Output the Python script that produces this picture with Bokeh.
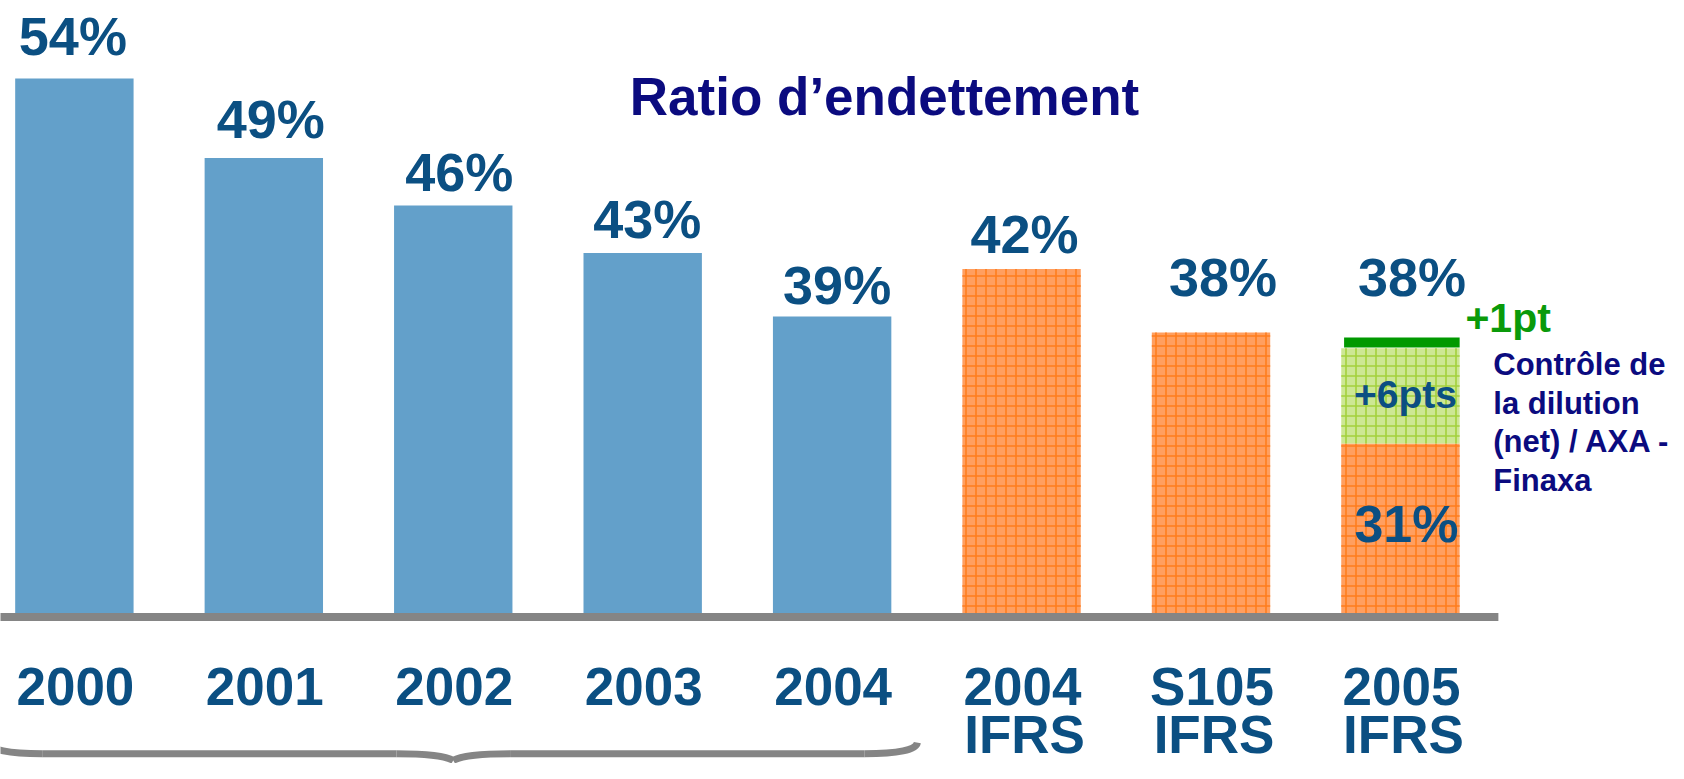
from bokeh.plotting import figure
from bokeh.models import Range1d, Label
from bokeh.core.properties import value
from bokeh.embed import file_html
from bokeh.resources import INLINE

# ---------------- data ----------------
categories = ["2000", "2001", "2002", "2003", "2004", "2004\nIFRS", "S105\nIFRS", "2005\nIFRS"]
ratios = [54, 49, 46, 43, 39, 42, 38, 38]
ratio_labels = ["54%", "49%", "46%", "43%", "39%", "42%", "38%", "38%"]
french_gaap_idx = [0, 1, 2, 3, 4]      # blue bars (grouped by the brace)
ifrs_idx = [5, 6]                       # plain IFRS bars
stack_idx = 7                           # 2005 IFRS decomposed bar
base_2005 = 31
base_2005_label = "31%"
dilution_pts = 6
dilution_label = "+6pts"
plus_one_pt = 1
plus_one_label = "+1pt"
title_text = "Ratio d\u2019endettement"
note_lines = ["Contr\u00f4le de", "la dilution", "(net) / AXA -", "Finaxa"]

# ---------------- style ----------------
AXIS_MIN = 20.06
BAR_W = 0.625
FONT_NAME = "Liberation Sans"
FONT = value(FONT_NAME)
BLUE = "#63a0ca"
VAL_COL = "#0b4f82"
NAVY = "#0b0b7f"
GREEN = "#0a9a0a"
ORANGE_FILL = "#ff9f60"
ORANGE_HATCH = "#ff7d1c"
GREEN_FILL = "#cde794"
GREEN_HATCH = "#a3d13c"
GRAY = "#858585"
FIX = 0.35  # baseline correction in em
VAL_SIZE = 54
CAT_SIZE = 53
LABEL_DX = [-1.5, 7, 6, 4.5, 5, 3, 12, 11.5]
LABEL_DY = [-23.3, -19.6, -14.2, -14.8, -12.3, -16.4, -36.9, -36.9]

W, H = 1668, 763
p = figure(width=W, height=H, x_range=Range1d(-0.39, 8.415), y_range=Range1d(10.83, 58.92),
           toolbar_location=None, output_backend="svg", min_border=0,
           x_axis_type=None, y_axis_type=None, outline_line_color=None,
           background_fill_color="white", border_fill_color="white")
p.grid.visible = False


def txt(**kw):
    size = kw.pop("size")
    yo = kw.pop("y_offset", 0)
    if isinstance(yo, list):
        yo = [v - FIX * size for v in yo]
    else:
        yo = yo - FIX * size
    kw.setdefault("text_align", "center")
    p.text(text_baseline="alphabetic", text_font=FONT, text_font_style="bold",
           text_font_size=f"{size}px", y_offset=yo, **kw)


# blue bars
p.vbar(x=french_gaap_idx, top=[ratios[i] for i in french_gaap_idx], bottom=AXIS_MIN,
       width=BAR_W, fill_color=BLUE, line_color=None)

# orange IFRS bars
orange_kw = dict(width=BAR_W, fill_color=ORANGE_FILL, line_color=None,
                 hatch_pattern="cross", hatch_color=ORANGE_HATCH, hatch_scale=10, hatch_weight=1.6)
p.vbar(x=ifrs_idx, top=[ratios[i] for i in ifrs_idx], bottom=AXIS_MIN, **orange_kw)
p.vbar(x=[stack_idx], top=[base_2005], bottom=AXIS_MIN, **orange_kw)
# green dilution part
p.vbar(x=[stack_idx], top=[base_2005 + dilution_pts], bottom=base_2005, width=BAR_W,
       fill_color=GREEN_FILL, line_color=None, hatch_pattern="cross",
       hatch_color=GREEN_HATCH, hatch_scale=10, hatch_weight=1.6)
# +1pt green line
y1pt = base_2005 + dilution_pts + 0.36 * plus_one_pt
p.segment(x0=[stack_idx - BAR_W / 2 + 0.015], x1=[stack_idx + BAR_W / 2], y0=[y1pt], y1=[y1pt],
          line_color="#009900", line_width=10, line_cap="butt")

# baseline
p.segment(x0=[-1], x1=[len(categories) - 1 + 0.517], y0=[AXIS_MIN], y1=[AXIS_MIN],
          line_color=GRAY, line_width=8)

# value labels
xs = list(range(len(categories)))
txt(x=xs, y=ratios, text=ratio_labels, x_offset=LABEL_DX, y_offset=LABEL_DY,
    size=VAL_SIZE, text_color=VAL_COL)

# category labels (two lines)
line1 = [c.split("\n")[0] for c in categories]
line2 = [c.split("\n")[1] if "\n" in c else "" for c in categories]
txt(x=xs, y=[AXIS_MIN] * len(xs), text=line1, x_offset=1, y_offset=87.5,
    size=CAT_SIZE, text_color=VAL_COL)
txt(x=xs, y=[AXIS_MIN] * len(xs), text=line2, x_offset=3, y_offset=135.5,
    size=CAT_SIZE, text_color=VAL_COL)

# inner labels of the 2005 bar
txt(x=[stack_idx], y=[base_2005 + dilution_pts / 2], text=[dilution_label], x_offset=5, y_offset=11.8,
    size=39, text_color=VAL_COL)
txt(x=[stack_idx], y=[(AXIS_MIN + base_2005) / 2], text=[base_2005_label], x_offset=6, y_offset=12.3,
    size=52, text_color=VAL_COL)
total_2005 = base_2005 + dilution_pts + plus_one_pt
txt(x=[stack_idx + 0.343], y=[total_2005], text=[plus_one_label], text_align="left",
    size=41, text_color=GREEN)

# note
txt(x=[stack_idx + 0.49] * len(note_lines), y=[total_2005] * len(note_lines), text=note_lines,
    y_offset=[43.1 + 38.5 * i for i in range(len(note_lines))], text_align="left",
    size=31, text_color=NAVY)

# brace under the 2000-2004 group
cx = sum(french_gaap_idx) / len(french_gaap_idx)
half = (french_gaap_idx[-1] - french_gaap_idx[0]) / 2 + 0.45
hook, mid = 0.28, 0.3
y_flat, y_tip, y_mid = 11.45, 12.15, 11.02
x0, x1 = cx - half, cx + half
p.quadratic(x0=[x0, cx - mid, cx + mid, x1], y0=[y_tip, y_flat, y_flat, y_tip],
            x1=[x0 + hook, cx, cx, x1 - hook], y1=[y_flat, y_mid, y_mid, y_flat],
            cx=[x0 + 0.01, cx - 0.06, cx + 0.06, x1 - 0.01], cy=[y_flat] * 4,
            line_color=GRAY, line_width=7)
p.segment(x0=[x0 + hook, cx + mid], x1=[cx - mid, x1 - hook], y0=[y_flat] * 2, y1=[y_flat] * 2,
          line_color=GRAY, line_width=7)

# title
TITLE_SIZE = 53
p.add_layout(Label(x=884, y=H - 115 + FIX * TITLE_SIZE, x_units="screen", y_units="screen",
                   text=title_text, text_align="center", text_baseline="alphabetic",
                   text_font=FONT_NAME, text_font_style="bold",
                   text_font_size=f"{TITLE_SIZE}px", text_color=NAVY))

open("out.html", "w").write(file_html(p, INLINE))
